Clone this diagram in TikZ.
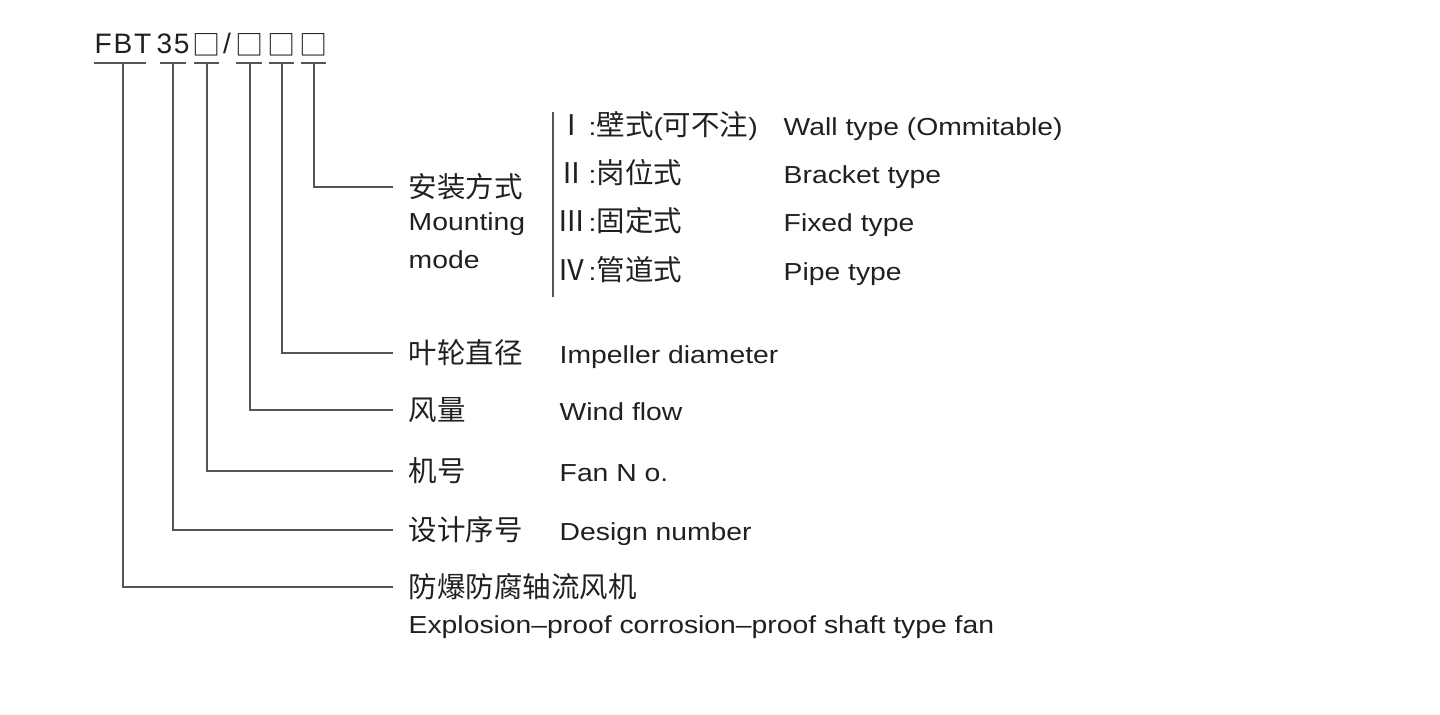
\documentclass[tikz,border=0pt]{standalone}
\usepackage{fontspec}
\setmainfont{Liberation Sans}[FakeStretch=1.15]
\newfontfamily\codefont{Liberation Sans}[LetterSpace=6]
\newfontfamily\plainfont{Liberation Sans}
\newfontfamily\cjk{Noto Sans CJK SC}
\newcommand\cntext[1]{{\fontsize{8.1}{9.7}\cjk #1}}
\usetikzlibrary{positioning}

\definecolor{ink}{HTML}{231F20}
\definecolor{wire}{HTML}{555555}

\tikzstyle{code} = [anchor=base,inner xsep=0pt,inner ysep=0.09cm,text depth=0pt,text=ink,font=\fontsize{8}{9.6}\codefont]
\tikzstyle{codebox} = [code,inner xsep=-0.05cm,inner ysep=0.07cm,font=\fontsize{8}{9.6}\cjk]
\tikzstyle{cn} = [anchor=west,inner sep=0pt,text=ink,font=\fontsize{8.1}{9.7}\cjk]
\tikzstyle{num} = [anchor=base east,inner sep=0pt,text=ink,font=\fontsize{8.1}{9.7}\cjk]
\tikzstyle{en} = [anchor=base west,inner sep=0pt,text=ink,font=\fontsize{7}{8.4}\selectfont]
\tikzstyle{link} = [draw,line width=0.45pt,wire]

\begin{document}
\begin{tikzpicture}[x=0.01cm,y=-0.01cm]
\useasboundingbox (0,0) rectangle (1440,714);
% model code
\node[code] (fbt) at (123,53) {FBT};
\node[code] (nr) at (173,53) {35};
\node[code,font=\fontsize{8}{9.6}\plainfont] (slash) at (227,53) {/};
\foreach \x/\name in {207/ba, 250/bb, 282/bc, 314/bd}{
  \node[codebox] (\name) at (\x,55) {□};
}
\foreach \name/\l/\r in {fbt/0.29/0.23, nr/0.13/0.13, ba/0.13/0.12,
                         bb/0.135/0.115, bc/0.13/0.12, bd/0.13/0.12}{
  \path[link] ([xshift=-\l cm]\name.south) -- ([xshift=\r cm]\name.south);
}
% meanings
\coordinate (encol) at (559,0);
\foreach \name/\from/\y/\cn/\en in {dia/bc/353/叶轮直径/Impeller diameter,
                                   flow/bb/410/风量/Wind flow,
                                   fan/ba/471/机号/Fan N o.,
                                   des/nr/530/设计序号/Design number}{
  \node[cn] (\name) at (408,\y) {\cn};
  \node[en] at (\name.base -| encol) {\en};
  \path[link] (\from.south) |- ([xshift=-0.15cm]\name.west);
}
\node[cn] (kind) at (408,587) {防爆防腐轴流风机};
\node[en] (kinden) at ([yshift=-0.36cm]kind.base west) {Explosion–proof corrosion–proof shaft type fan};
\path[link] (fbt.south) |- ([xshift=-0.15cm]kind.west);
% mounting mode
\node[cn] (mount) at (408,187) {安装方式};
\node[en] (mounten) at (408,230) {Mounting};
\node[en] (modeen) at (408,268) {mode};
\path[link] (bd.south) |- ([xshift=-0.15cm]mount.west);
\coordinate (bartop) at (553,112);
\coordinate (barbot) at (553,297);
\path[link] (bartop) -- (barbot);
\foreach \num/\y/\cn/\en in {{Ⅰ/135/\cntext{壁式}(\cntext{可不注})/Wall type (Ommitable)},
                              {Ⅱ/183/\cntext{岗位式}/Bracket type},
                              {Ⅲ/231/\cntext{固定式}/Fixed type},
                              {Ⅳ/280/\cntext{管道式}/Pipe type}}{
  \node[num] (r\y) at (587,\y) {\num};
  \node[en] at (588,\y) {:\cn};
  \node[en] at (783,\y) {\en};
}
\end{tikzpicture}
\end{document}
